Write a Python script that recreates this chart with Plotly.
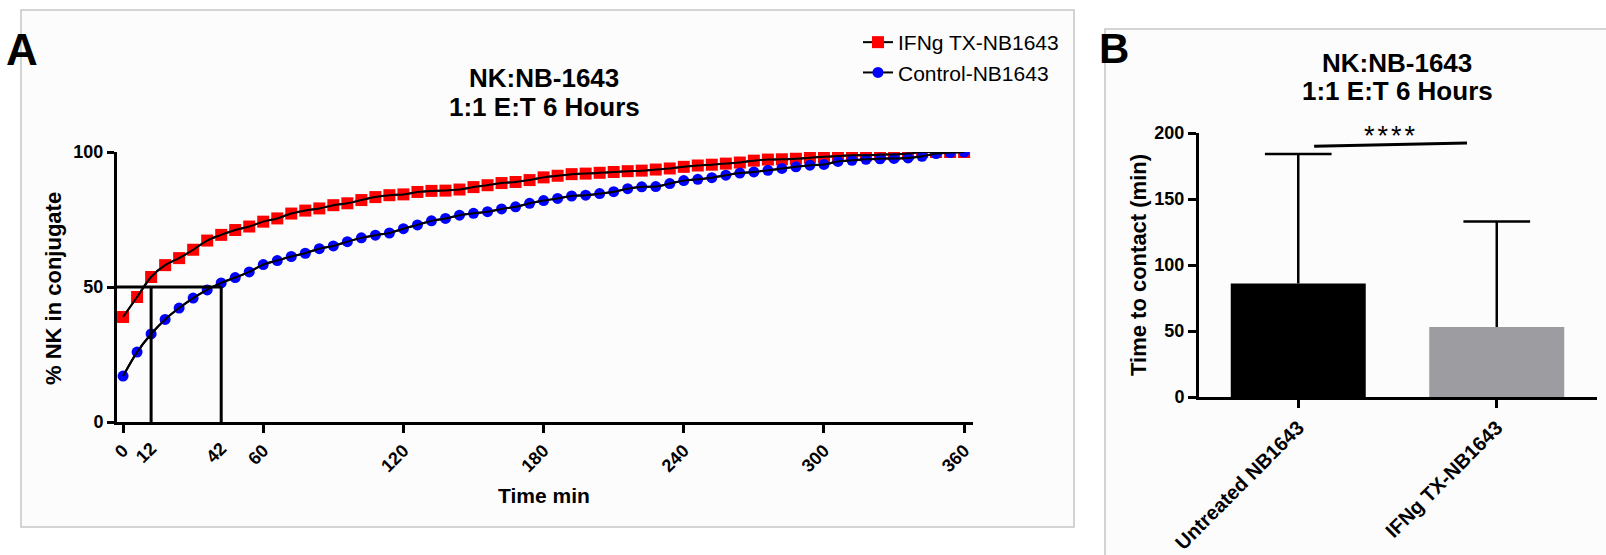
import plotly.graph_objects as go

W, H = 1606, 555
FONT = "Liberation Sans, Arial, sans-serif"

# ---- Panel A: conjugate formation over time ----
time_min = list(range(0, 361, 6))
ifng_tx = [
    38.9, 46.3, 53.7, 58.1, 60.7, 63.8, 67.2, 69.3, 71.1, 72.4,
    74.2, 75.4, 77.2, 78.3, 79.1, 80.3, 81.0, 82.2, 83.3, 84.0,
    84.3, 85.2, 85.6, 85.7, 86.1, 87.0, 87.7, 88.5, 88.9, 89.6,
    90.6, 91.2, 91.8, 92.0, 92.3, 92.6, 92.9, 93.1, 93.5, 93.9,
    94.5, 95.0, 95.3, 95.7, 96.1, 96.8, 97.2, 97.3, 97.5, 97.9,
    98.2, 98.5, 98.8, 98.8, 99.0, 99.1, 99.4, 100.0, 100.0, 100.0,
    100.0,
]
control = [
    17.0, 25.9, 32.6, 38.0, 42.2, 45.9, 48.9, 51.5, 53.5, 55.6,
    58.3, 59.8, 61.3, 62.5, 64.2, 65.2, 66.8, 68.2, 69.2, 70.0,
    71.6, 73.0, 74.5, 75.4, 76.6, 77.3, 77.9, 78.9, 79.7, 81.0,
    82.0, 82.8, 83.7, 84.0, 84.6, 85.3, 86.4, 87.1, 87.2, 88.3,
    89.4, 89.9, 90.5, 91.4, 92.2, 92.6, 93.2, 93.9, 94.5, 95.1,
    95.4, 96.5, 96.9, 97.3, 97.5, 97.6, 97.8, 98.4, 99.4, 99.8,
    100.0,
]
half_max_time = [12, 42]
half_level = 50
x_major_ticks = [0, 60, 120, 180, 240, 300, 360]
y_ticks_a = [0, 50, 100]

# ---- Panel B: time to first contact ----
groups = ["Untreated NB1643", "IFNg TX-NB1643"]
contact_mean = [86, 53]
contact_sd = [98, 80]
sig_label = "****"
y_ticks_b = [0, 50, 100, 150, 200]

X_RANGE_A = [-2.6, 363.8]
CAP_HALF = 0.168  # error-bar cap half width, in category units


def px(x):
    return x / W


def py(y):
    return 1 - y / H


def bold(size):
    return dict(family=FONT, size=size, color="black", weight="bold")


fig = go.Figure()

fig.add_trace(go.Scatter(
    x=time_min, y=ifng_tx, mode="lines+markers", name="IFNg TX-NB1643",
    line=dict(color="black", width=2, shape="spline"),
    marker=dict(symbol="square", color="#ff0000", size=12),
    xaxis="x", yaxis="y",
))
fig.add_trace(go.Scatter(
    x=time_min, y=control, mode="lines+markers", name="Control-NB1643",
    line=dict(color="black", width=2, shape="spline"),
    marker=dict(symbol="circle", color="#0000ff", size=11),
    xaxis="x", yaxis="y",
))
# connecting curves drawn on top of the markers
for series in (ifng_tx, control):
    fig.add_trace(go.Scatter(
        x=time_min, y=series, mode="lines", showlegend=False, hoverinfo="skip",
        line=dict(color="black", width=2, shape="spline"),
        xaxis="x", yaxis="y",
    ))
# holder trace for the half-max tick labels axis
fig.add_trace(go.Scatter(x=[None], y=[None], xaxis="x3", yaxis="y",
                         showlegend=False, hoverinfo="skip"))

fig.add_trace(go.Bar(
    x=groups, y=contact_mean, width=0.68, showlegend=False,
    marker=dict(color=["#000000", "#9d9da1"], line=dict(width=0)),
    error_y=dict(type="data", symmetric=False, array=contact_sd,
                 arrayminus=[0, 0], color="black", thickness=2.5, width=0),
    xaxis="x2", yaxis="y2",
))

axis_common = dict(showgrid=False, zeroline=False, showline=True,
                   linecolor="black", linewidth=3, ticks="outside",
                   tickcolor="black", tickwidth=2.5, automargin=False)

fig.update_layout(
    template="none",
    width=W, height=H, autosize=False,
    margin=dict(l=0, r=0, t=0, b=0, pad=0),
    paper_bgcolor="white", plot_bgcolor="rgba(0,0,0,0)",
    font=dict(family=FONT, color="black"),
    xaxis=dict(domain=[px(117), px(973)], range=X_RANGE_A, anchor="y",
               tickvals=x_major_ticks, ticklen=8, tickangle=-45,
               tickfont=bold(18), **axis_common),
    xaxis3=dict(overlaying="x", anchor="y", side="bottom", range=X_RANGE_A,
                tickvals=half_max_time, ticktext=[str(t) for t in half_max_time],
                ticks="outside", ticklen=8, tickcolor="rgba(0,0,0,0)",
                showline=False, showgrid=False, zeroline=False, automargin=False,
                tickangle=-45, tickfont=bold(18)),
    yaxis=dict(domain=[py(422), py(152)], range=[0, 100], anchor="x",
               tickvals=y_ticks_a, ticklen=7, tickfont=bold(18), **axis_common),
    xaxis2=dict(domain=[px(1199), px(1597)], range=[-0.5, 1.505], anchor="y2",
                type="category", ticklen=8, tickangle=-45,
                tickfont=bold(20), **axis_common),
    yaxis2=dict(domain=[py(397), py(133)], range=[0, 200], anchor="x2",
                tickvals=y_ticks_b, ticklen=8, tickfont=bold(18), **axis_common),
    legend=dict(x=px(858), y=py(22), xanchor="left", yanchor="top",
                bgcolor="rgba(0,0,0,0)", borderwidth=0,
                font=dict(family=FONT, size=21), tracegroupgap=0),
    showlegend=True,
)

shapes = [
    dict(type="rect", xref="paper", yref="paper", layer="below",
         x0=px(21), x1=px(1074), y0=py(527), y1=py(10),
         fillcolor="#fcfcfc", line=dict(color="#c6c6c6", width=1.5)),
    dict(type="rect", xref="paper", yref="paper", layer="below",
         x0=px(1105), x1=px(1630), y0=py(590), y1=py(29),
         fillcolor="#fcfcfc", line=dict(color="#c6c6c6", width=1.5)),
]
for t in half_max_time:
    shapes.append(dict(type="line", xref="x", yref="y", x0=t, x1=t,
                       y0=0, y1=half_level, line=dict(color="black", width=3)))
shapes.append(dict(type="line", xref="x", yref="y", x0=X_RANGE_A[0],
                   x1=max(half_max_time), y0=half_level, y1=half_level,
                   line=dict(color="black", width=3)))
# error-bar caps (upper end only)
for i, (m, sd) in enumerate(zip(contact_mean, contact_sd)):
    shapes.append(dict(type="line", xref="x2", yref="y2",
                       x0=i - CAP_HALF, x1=i + CAP_HALF, y0=m + sd, y1=m + sd,
                       line=dict(color="black", width=2.5)))
# significance bar
shapes.append(dict(type="line", xref="x2", yref="y2", x0=0.08, x1=0.85,
                   y0=190, y1=192.5, line=dict(color="black", width=3)))
fig.update_layout(shapes=shapes)


def note(text, x, y, size, angle=0, weight="bold", xanchor="center"):
    return dict(text=text, x=px(x), y=py(y), xref="paper", yref="paper",
                showarrow=False, textangle=angle, xanchor=xanchor,
                yanchor="middle",
                font=dict(family=FONT, size=size, color="black", weight=weight))


fig.update_layout(annotations=[
    note("A", 22, 50, 44),
    note("B", 1114, 49, 42),
    note("NK:NB-1643", 544, 78, 26),
    note("1:1 E:T 6 Hours", 544, 107, 26),
    note("NK:NB-1643", 1397, 63, 26),
    note("1:1 E:T 6 Hours", 1397, 91, 26),
    note("% NK in conjugate", 53, 289, 22, angle=-90),
    note("Time min", 544, 495, 21),
    note("Time to contact (min)", 1138, 265, 22, angle=-90),
    note('<span style="letter-spacing:3px">' + sig_label + "</span>",
         1391, 136, 27, weight="normal"),
])

fig.write_html("out.html")
